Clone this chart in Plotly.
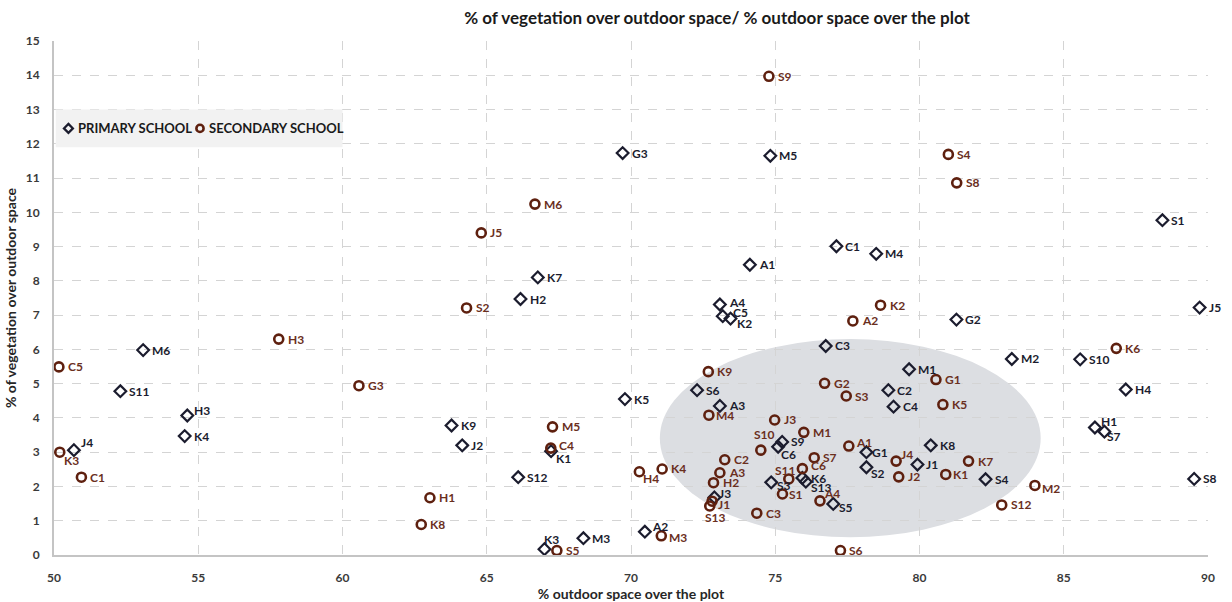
import plotly.graph_objects as go

# Primary schools
primary_names = ["M6", "S11", "H3", "K4", "J4", "H2", "K7", "A4", "C5", "K2",
                 "S6", "K5", "A3", "K9", "J2", "K1", "S12", "K3", "M3", "A2",
                 "S9", "C6", "S3", "J3", "K6", "S13", "S5", "G1", "S2", "C2",
                 "C4", "K8", "J1", "S4", "C3", "G2", "M2", "S10", "M1", "H4",
                 "H1", "S7", "S8", "J5", "G3", "M5", "C1", "M4", "A1", "S1"]
primary_outdoor = [53.09, 52.30, 54.62, 54.53, 50.69, 66.17, 66.77, 73.08, 73.18, 73.45,
                   72.29, 69.79, 73.08, 63.78, 64.15, 67.23, 66.09, 67.00, 68.35, 70.48,
                   75.24, 75.10, 74.86, 72.89, 75.94, 76.06, 77.01, 78.16, 78.16, 78.92,
                   79.10, 80.39, 79.93, 82.29, 76.75, 81.28, 83.20, 85.57, 79.64, 87.15,
                   86.08, 86.41, 89.52, 89.71, 69.71, 74.83, 77.12, 78.50, 74.12, 88.42]
primary_vegetation = [5.98, 4.78, 4.07, 3.47, 3.06, 7.47, 8.10, 7.31, 6.97, 6.90,
                      4.81, 4.55, 4.35, 3.78, 3.20, 3.03, 2.27, 0.17, 0.49, 0.68,
                      3.30, 3.16, 2.12, 1.68, 2.25, 2.14, 1.49, 3.00, 2.56, 4.81,
                      4.33, 3.20, 2.64, 2.21, 6.10, 6.87, 5.72, 5.71, 5.42, 4.83,
                      3.72, 3.60, 2.22, 7.22, 11.73, 11.65, 9.01, 8.79, 8.47, 9.77]

# Secondary schools
secondary_names = ["S9", "M6", "J5", "S4", "S8", "S2", "M5", "K2", "A2", "K9",
                   "M4", "J3", "C4", "H1", "K8", "S5", "M3", "H4", "K4", "S10",
                   "C2", "A3", "H2", "J1", "S13", "C3", "M1", "S11", "S1", "G2",
                   "S3", "S7", "C6", "A4", "A1", "K5", "J4", "J2", "K1", "K7",
                   "S12", "M2", "K6", "G1", "S6", "H3", "C5", "G3", "K3", "C1"]
secondary_outdoor = [74.78, 66.67, 64.81, 81.00, 81.29, 64.30, 67.28, 78.65, 77.69, 72.68,
                     72.70, 74.98, 67.22, 63.03, 62.73, 67.43, 71.05, 70.29, 71.08, 74.50,
                     73.25, 73.08, 72.86, 72.81, 72.73, 74.36, 75.99, 75.47, 75.25, 76.71,
                     77.46, 76.35, 75.94, 76.55, 77.55, 80.81, 79.19, 79.28, 80.91, 81.70,
                     82.85, 84.00, 86.82, 80.57, 77.26, 57.79, 50.17, 60.57, 50.20, 50.95]
secondary_vegetation = [13.97, 10.24, 9.40, 11.69, 10.86, 7.21, 3.74, 7.29, 6.83, 5.35,
                        4.08, 3.94, 3.12, 1.67, 0.89, 0.13, 0.56, 2.43, 2.51, 3.06,
                        2.78, 2.40, 2.11, 1.57, 1.43, 1.22, 3.58, 2.22, 1.78, 5.01,
                        4.64, 2.84, 2.52, 1.58, 3.18, 4.39, 2.74, 2.28, 2.35, 2.74,
                        1.46, 2.03, 6.03, 5.12, 0.13, 6.30, 5.49, 4.94, 3.00, 2.27]

x_ticks = [50, 55, 60, 65, 70, 75, 80, 85, 90]
y_ticks = list(range(0, 16))

# Label offsets in pixels (dx right, dy up) from the marker centre; default is just right
DEFAULT_OFFSET = (8, 0)
primary_label_offset = {"H3": (6, 5), "J4": (6, 8), "A4": (8, 2), "C5": (9, 4),
                        "K2": (5, -5), "K1": (4, -7), "K3": (-1, 10), "A2": (6, 5),
                        "C6": (2, -8), "J3": (4, 4), "S3": (5, -3), "S13": (4, -6),
                        "S5": (5, -4), "G1": (5, 0), "S2": (4, -6), "H1": (5, 6),
                        "S7": (2, -5), "K6": (8, -1)}
secondary_label_offset = {"C4": (7, 3), "H4": (3, -7), "S10": (-8, 16), "S13": (-6, -11),
                          "J1": (5, -3), "S11": (-15, 8), "A4": (3, 7), "A1": (6, 4),
                          "J4": (4, 7), "M2": (6, -3), "K3": (3, -8), "M4": (6, 0),
                          "K1": (6, 0), "S1": (6, 0), "M3": (7, -2), "C6": (8, 3)}

FONT = "Lato"
NAVY = "#1b1c2e"
BROWN = "#5e200f"
BROWN_TXT = "#6a2f1e"
LABEL_SIZE = 12

fig = go.Figure()

# Highlighted cluster
fig.add_shape(type="circle", xref="x", yref="y", x0=71.0, x1=84.2, y0=0.52, y1=6.30,
              fillcolor="#dcdee2", line=dict(width=0), layer="below")

fig.add_trace(go.Scatter(
    x=primary_outdoor, y=primary_vegetation, text=primary_names, hoverinfo="text",
    mode="markers", name="PRIMARY SCHOOL", showlegend=False,
    marker=dict(symbol="diamond-open", size=9, color=NAVY, line=dict(width=2.2, color=NAVY)),
    cliponaxis=False,
))
fig.add_trace(go.Scatter(
    x=secondary_outdoor, y=secondary_vegetation, text=secondary_names, hoverinfo="text",
    mode="markers", name="SECONDARY SCHOOL", showlegend=False,
    marker=dict(symbol="circle-open", size=9, color=BROWN, line=dict(width=2.6, color=BROWN)),
    cliponaxis=False,
))

# Point labels
def add_labels(names, xs, ys, offsets, color):
    for name, xv, yv in zip(names, xs, ys):
        dx, dy = offsets.get(name, DEFAULT_OFFSET)
        fig.add_annotation(x=xv, y=yv, xref="x", yref="y", text=name, showarrow=False,
                           xanchor="left", yanchor="middle", xshift=dx, yshift=dy,
                           borderpad=0,
                           font=dict(family=FONT, size=LABEL_SIZE, color=color, weight="bold"))

add_labels(primary_names, primary_outdoor, primary_vegetation, primary_label_offset, NAVY)
add_labels(secondary_names, secondary_outdoor, secondary_vegetation, secondary_label_offset, BROWN_TXT)

# Legend box inside the plot area
fig.add_shape(type="rect", xref="x", yref="y", x0=50.06, x1=60.0, y0=11.9, y1=13.0,
              fillcolor="#f2f2f2", line=dict(width=0), layer="above")
fig.add_shape(type="path", xref="x", yref="y", xsizemode="pixel", ysizemode="pixel",
              xanchor=50.50, yanchor=12.45, path="M0,4.5 L4.5,0 L0,-4.5 L-4.5,0 Z",
              line=dict(color=NAVY, width=2.2), layer="above")
fig.add_shape(type="circle", xref="x", yref="y", xsizemode="pixel", ysizemode="pixel",
              xanchor=55.06, yanchor=12.45, x0=-3.6, x1=3.6, y0=-3.6, y1=3.6,
              line=dict(color=BROWN, width=2.6), layer="above")
legend_font = dict(family=FONT, size=13, color="#1a1a1a", weight="bold")
fig.add_annotation(x=50.78, y=12.45, xref="x", yref="y", text="PRIMARY SCHOOL",
                   showarrow=False, xanchor="left", yanchor="middle", borderpad=0,
                   font=legend_font)
fig.add_annotation(x=55.34, y=12.45, xref="x", yref="y", text="SECONDARY SCHOOL",
                   showarrow=False, xanchor="left", yanchor="middle", borderpad=0,
                   font=legend_font)

axis_font = dict(family=FONT, size=12, color="#3a3a3a", weight="bold")
title_font = dict(family=FONT, size=14, color="#262626", weight="bold")
fig.update_xaxes(
    range=[50, 90], tickvals=x_ticks, ticktext=[str(v) for v in x_ticks],
    showgrid=True, gridcolor="#d4d4d4", griddash="dash", gridwidth=1,
    showline=True, linecolor="#c4c4c4", linewidth=2, zeroline=False,
    tickfont=axis_font, ticks="", ticklabelstandoff=11, automargin=False,
    title=dict(text="% outdoor space over the plot", standoff=6, font=title_font),
)
fig.update_yaxes(
    range=[0, 15], tickvals=y_ticks, ticktext=[str(v) for v in y_ticks],
    showgrid=True, gridcolor="#d4d4d4", griddash="dash", gridwidth=1,
    showline=True, linecolor="#c4c4c4", linewidth=2, zeroline=False,
    tickfont=axis_font, ticks="", ticklabelstandoff=10, automargin=False,
    title=dict(text="% of vegetation over outdoor space", standoff=6, font=title_font),
)

fig.update_layout(
    width=1232, height=602,
    margin=dict(l=54, r=24, t=41, b=47, autoexpand=False),
    paper_bgcolor="white", plot_bgcolor="white",
    title=dict(text="% of vegetation over outdoor space/ % outdoor space over the plot",
               x=0.582, xanchor="center", y=0.97, yanchor="middle",
               font=dict(family=FONT, size=17, color="#1a1a1a", weight="bold")),
    showlegend=False,
)

fig.write_html("out.html")
